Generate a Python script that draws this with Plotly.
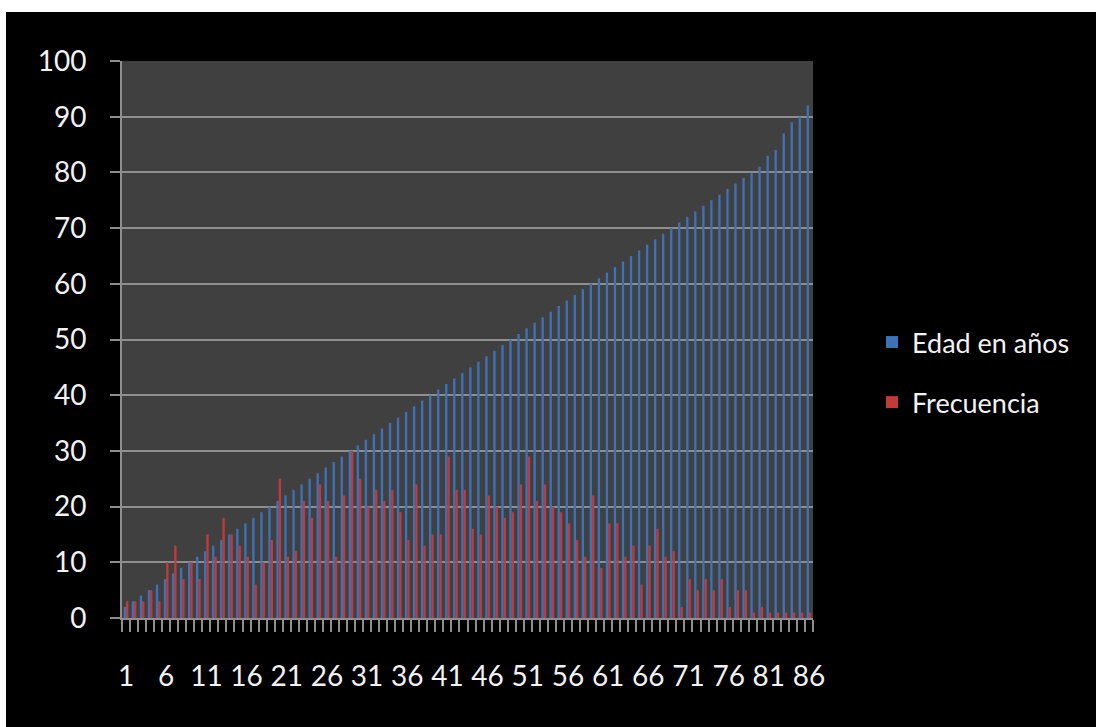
import plotly.graph_objects as go

# Observation index (1..86)
indice = list(range(1, 87))

# Age in years for each observation
edad_en_anos = [
    2, 3, 4, 5, 6, 7, 8, 9, 10, 11,
    12, 13, 14, 15, 16, 17, 18, 19, 20, 21,
    22, 23, 24, 25, 26, 27, 28, 29, 30, 31,
    32, 33, 34, 35, 36, 37, 38, 39, 40, 41,
    42, 43, 44, 45, 46, 47, 48, 49, 50, 51,
    52, 53, 54, 55, 56, 57, 58, 59, 60, 61,
    62, 63, 64, 65, 66, 67, 68, 69, 70, 71,
    72, 73, 74, 75, 76, 77, 78, 79, 80, 81,
    83, 84, 87, 89, 90, 92,
]

# Frequency for each observation
frecuencia = [
    3, 3, 3, 5, 3, 10, 13, 7, 10, 7,
    15, 11, 18, 15, 13, 11, 6, 10, 14, 25,
    11, 12, 21, 18, 24, 21, 11, 22, 30, 25,
    20, 23, 21, 23, 19, 14, 24, 13, 15, 15,
    29, 23, 23, 16, 15, 22, 20, 18, 19, 24,
    29, 21, 24, 20, 19, 17, 14, 11, 22, 9,
    17, 17, 11, 13, 6, 13, 16, 11, 12, 2,
    7, 5, 7, 5, 7, 2, 5, 5, 1, 2,
    1, 1, 1, 1, 1, 1,
]

# Labelled x ticks (every fifth observation)
etiquetas_x = [1, 6, 11, 16, 21, 26, 31, 36, 41, 46, 51, 56, 61, 66, 71, 76, 81, 86]
marcas_y = [0, 10, 20, 30, 40, 50, 60, 70, 80, 90, 100]

AZUL = "#3d72b9"
ROJO = "#c13b3b"
GRIS = "#8e8e8e"
TEXTO = "#f2f2f2"
FUENTE = "Lato"

fig = go.Figure()
fig.add_trace(go.Bar(
    x=indice, y=edad_en_anos, name="Edad en años",
    marker=dict(color=AZUL, line=dict(width=0)),
    legendgroup="a",
))
fig.add_trace(go.Bar(
    x=indice, y=frecuencia, name="Frecuencia",
    marker=dict(color=ROJO, line=dict(width=0)),
    legendgroup="b",
))

# Plot area geometry in pixels
W, H = 1096, 727
L, R, T, B = 122, 813, 61, 618
pw, ph = R - L, B - T


def px_x(v):
    return (v - L) / pw


def px_y(v):
    return (B - v) / ph


fig.update_layout(
    width=W, height=H,
    margin=dict(l=L, r=W - R, t=T, b=H - B, pad=0),
    paper_bgcolor="#000000",
    plot_bgcolor="#404040",
    barmode="group",
    bargap=0.42,
    bargroupgap=0,
    font=dict(family=FUENTE, size=28, color=TEXTO),
    showlegend=True,
    legend=dict(
        x=px_x(872), y=px_y(318), xanchor="left", yanchor="top",
        bgcolor="rgba(0,0,0,0)",
        font=dict(family=FUENTE, size=27, color=TEXTO),
        traceorder="grouped",
        tracegroupgap=22,
        itemwidth=30,
    ),
    shapes=[
        # thin white border strips at the top and left edges
        dict(type="rect", xref="paper", yref="paper",
             x0=px_x(0), x1=px_x(W), y0=px_y(12), y1=px_y(0),
             fillcolor="#ffffff", line=dict(width=0), layer="above"),
        dict(type="rect", xref="paper", yref="paper",
             x0=px_x(0), x1=px_x(6), y0=px_y(H), y1=px_y(0),
             fillcolor="#ffffff", line=dict(width=0), layer="above"),
    ],
)

fig.update_xaxes(
    type="linear",
    range=[0.5, 86.5],
    tickmode="array",
    tickvals=etiquetas_x,
    ticktext=[str(v) for v in etiquetas_x],
    ticks="outside", ticklen=32, tickcolor="rgba(0,0,0,0)", tickwidth=1,
    minor=dict(tickmode="linear", tick0=0.5, dtick=1, ticks="outside",
               ticklen=12, tickwidth=2, tickcolor=GRIS, showgrid=False),
    showgrid=False,
    zeroline=False,
    showline=True, linecolor=GRIS, linewidth=2,
    tickfont=dict(family=FUENTE, size=28, color=TEXTO),
)

fig.update_yaxes(
    range=[0, 100],
    tickmode="array",
    tickvals=marcas_y,
    ticktext=[str(v) for v in marcas_y],
    ticks="outside", ticklen=10, tickwidth=2, tickcolor=GRIS,
    showgrid=True, gridcolor=GRIS, gridwidth=2,
    zeroline=False,
    showline=True, linecolor=GRIS, linewidth=2,
    tickfont=dict(family=FUENTE, size=28, color=TEXTO),
    ticklabelstandoff=18,
)

fig.write_html("out.html")
